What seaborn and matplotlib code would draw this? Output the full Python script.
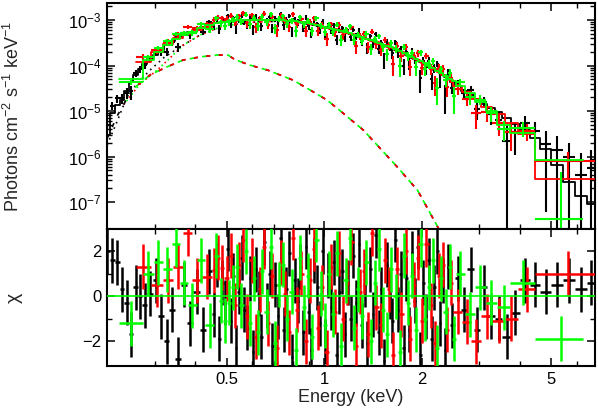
import numpy as np
import matplotlib
matplotlib.use('Agg')
import matplotlib.pyplot as plt
import seaborn as sns
from matplotlib.ticker import FixedLocator, FixedFormatter, NullFormatter

# ---- data ----
# black dataset: bin edges (keV), unfolded model per bin, residual (chi), error / model
black_edges = [0.210, 0.218, 0.226, 0.234, 0.242, 0.250, 0.258, 0.266, 0.275, 0.285,
               0.296, 0.308, 0.320, 0.333, 0.347, 0.362, 0.378, 0.395, 0.413, 0.432,
               0.452, 0.461, 0.470, 0.480, 0.489, 0.499, 0.509, 0.519, 0.530, 0.540,
               0.551, 0.562, 0.573, 0.585, 0.597, 0.609, 0.621, 0.633, 0.646, 0.659,
               0.672, 0.685, 0.699, 0.713, 0.727, 0.742, 0.757, 0.772, 0.787, 0.803,
               0.819, 0.835, 0.852, 0.869, 0.886, 0.904, 0.922, 0.941, 0.960, 0.979,
               0.998, 1.018, 1.039, 1.060, 1.081, 1.103, 1.125, 1.147, 1.170, 1.194,
               1.218, 1.242, 1.267, 1.292, 1.318, 1.344, 1.371, 1.399, 1.427, 1.455,
               1.484, 1.514, 1.544, 1.575, 1.607, 1.639, 1.672, 1.705, 1.739, 1.774,
               1.810, 1.846, 1.883, 1.920, 1.959, 1.998, 2.038, 2.079, 2.120, 2.163,
               2.206, 2.250, 2.295, 2.341, 2.388, 2.436,
               2.530, 2.640, 2.760, 2.890, 3.030, 3.180, 3.350, 3.540, 3.760, 4.010,
               4.300, 4.630, 5.010, 5.440, 5.920, 6.450, 6.820]
black_model = [2.9e-6, 8.9e-6, 1.35e-5, 1.78e-5, 2.7e-5, 4.3e-5, 6.3e-5, 8.3e-5, 1.10e-4, 1.38e-4,
               1.70e-4, 2.24e-4, 2.88e-4, 3.55e-4, 4.2e-4, 4.8e-4, 5.5e-4, 6.2e-4, 6.9e-4, 7.8e-4,
               8.4e-4, 8.6e-4, 8.8e-4, 9.1e-4, 9.3e-4, 9.5e-4, 9.6e-4, 9.7e-4, 9.8e-4, 9.9e-4,
               1.0e-3, 1.0e-3, 1.0e-3, 1.0e-3, 1.0e-3, 1.0e-3, 1.0e-3, 1.0e-3, 1.0e-3, 1.0e-3,
               1.0e-3, 1.0e-3, 9.9e-4, 9.9e-4, 9.8e-4, 9.8e-4, 9.7e-4, 9.6e-4, 9.5e-4, 9.4e-4,
               9.2e-4, 9.1e-4, 8.9e-4, 8.7e-4, 8.3e-4, 8.1e-4, 7.9e-4, 7.6e-4, 7.4e-4, 7.1e-4,
               6.9e-4, 6.7e-4, 6.5e-4, 6.3e-4, 6.1e-4, 5.9e-4, 5.7e-4, 5.5e-4, 5.2e-4, 5.0e-4,
               4.8e-4, 4.6e-4, 4.4e-4, 4.2e-4, 4.0e-4, 3.85e-4, 3.65e-4, 3.5e-4, 3.3e-4, 3.15e-4,
               2.95e-4, 2.8e-4, 2.65e-4, 2.5e-4, 2.35e-4, 2.2e-4, 2.08e-4, 1.95e-4, 1.85e-4, 1.7e-4,
               1.6e-4, 1.5e-4, 1.42e-4, 1.3e-4, 1.22e-4, 1.12e-4, 1.04e-4, 9.4e-5, 8.8e-5, 8.1e-5,
               7.4e-5, 6.8e-5, 6.3e-5, 5.7e-5, 5.3e-5,
               4.4e-5, 3.55e-5, 2.8e-5, 2.3e-5, 1.8e-5, 1.45e-5, 1.17e-5, 9.3e-6, 7.1e-6, 5.2e-6,
               3.8e-6, 2.6e-6, 1.5e-6, 6.6e-7, 2.8e-7, 1.38e-7, 8.9e-8]
black_chi = [2.0, 1.6, 1.5, 0.3, -0.3, -1.7, 0.4, 0.0, -0.4, 0.1,
             0.7, -0.9, -2.0, -0.6, -2.8, 0.5, -1.2, 0.2, -1.5, 1.1,
             -0.8, 1.4, -1.9, 0.6, -0.3, 2.1, -1.1, 0.9, -2.3, 0.2,
             1.7, -0.6, -1.4, 0.8, -2.5, 1.2, 0.1, -1.8, 2.4, -0.4,
             1.0, -2.2, 0.5, -0.9, 2.6, -1.5, 0.3, 1.9, -2.7, 0.7,
             -0.2, 1.3, -1.6, 2.2, -0.7, -2.4, 1.6, 0.4, -1.2, 2.0,
             -2.0, 0.9, -0.5, 1.5, -2.6, 0.2, 1.1, -1.7, 0.6, -1.0,
             1.8, -0.3, 2.3, -1.3, 0.5, -2.1, 1.2, -0.8, 2.7, -1.6,
             0.3, -2.9, 1.4, 0.0, -1.1, 2.5, -0.6, 1.0, -2.3, 0.8,
             -1.5, 1.9, -0.2, 2.2, -2.6, 0.6, -0.9, 1.6, -1.9, 0.4,
             2.0, -1.2, 0.7, -2.4, 1.3,
             -1.3, 0.8, -0.6, 1.2, -1.5, 0.4, -0.9, -1.0, -1.8, -0.75,
             0.7, 0.5, 0.2, 0.5, 0.7, 0.3, 0.6]
black_relerr = [0.35, 0.30, 0.28, 0.26, 0.24, 0.22, 0.20, 0.19, 0.18, 0.17,
                0.16, 0.15, 0.15, 0.14, 0.14, 0.14, 0.13, 0.13, 0.13, 0.13,
                0.15, 0.15, 0.15, 0.15, 0.15, 0.15, 0.15, 0.15, 0.15, 0.15,
                0.15, 0.15, 0.15, 0.15, 0.15, 0.15, 0.15, 0.15, 0.15, 0.15,
                0.15, 0.15, 0.15, 0.15, 0.15, 0.15, 0.15, 0.15, 0.15, 0.15,
                0.15, 0.15, 0.15, 0.15, 0.15, 0.15, 0.15, 0.15, 0.15, 0.15,
                0.15, 0.15, 0.15, 0.15, 0.15, 0.15, 0.15, 0.15, 0.15, 0.15,
                0.16, 0.16, 0.16, 0.16, 0.16, 0.17, 0.17, 0.17, 0.17, 0.17,
                0.18, 0.18, 0.18, 0.18, 0.19, 0.19, 0.19, 0.19, 0.20, 0.20,
                0.20, 0.21, 0.21, 0.21, 0.22, 0.22, 0.22, 0.23, 0.23, 0.23,
                0.24, 0.24, 0.25, 0.25, 0.26,
                0.20, 0.21, 0.22, 0.24, 0.26, 0.28, 0.30, 0.33, 0.38, 0.45,
                0.6, 0.8, 1.2, 2.2, 3.5, 6.0, 9.0]

# red dataset
red_edges = [0.262, 0.292, 0.318, 0.342, 0.366, 0.392, 0.420,
             0.450, 0.464, 0.478, 0.492, 0.507, 0.522, 0.538, 0.554, 0.571, 0.588,
             0.605, 0.623, 0.642, 0.661, 0.681, 0.702, 0.723, 0.745, 0.767, 0.790,
             0.814, 0.838, 0.863, 0.889, 0.916, 0.943, 0.972, 1.001, 1.031, 1.062,
             1.094, 1.126, 1.160, 1.195, 1.231, 1.268, 1.306, 1.345, 1.385, 1.427,
             1.470, 1.514, 1.559, 1.606, 1.654, 1.704, 1.755, 1.808, 1.862, 1.918,
             1.975, 2.035, 2.096, 2.159, 2.223, 2.290, 2.359, 2.430, 2.500,
             2.660, 2.840, 3.050, 3.300, 3.600, 3.950, 4.460, 6.840]
red_model = [1.2e-4, 2.0e-4, 3.0e-4, 4.0e-4, 5.0e-4, 6.0e-4, 7.2e-4,
             8.5e-4, 8.8e-4, 9.1e-4, 9.4e-4, 9.6e-4, 9.7e-4, 9.8e-4, 9.9e-4, 1.0e-3, 1.0e-3,
             1.0e-3, 1.0e-3, 1.0e-3, 1.0e-3, 1.0e-3, 9.9e-4, 9.8e-4, 9.7e-4, 9.6e-4, 9.4e-4,
             9.2e-4, 9.0e-4, 8.7e-4, 8.3e-4, 8.0e-4, 7.6e-4, 7.2e-4, 6.8e-4, 6.5e-4, 6.2e-4,
             5.9e-4, 5.6e-4, 5.3e-4, 4.9e-4, 4.6e-4, 4.3e-4, 4.1e-4, 3.8e-4, 3.55e-4, 3.3e-4,
             3.0e-4, 2.8e-4, 2.6e-4, 2.4e-4, 2.2e-4, 2.0e-4, 1.8e-4, 1.62e-4, 1.48e-4, 1.33e-4,
             1.18e-4, 1.05e-4, 9.3e-5, 8.2e-5, 7.2e-5, 6.3e-5, 5.5e-5, 4.7e-5,
             3.6e-5, 2.6e-5, 1.85e-5, 1.25e-5, 8.5e-6, 5.5e-6, 3.2e-6, 3.2e-7]
red_chi = [1.3, 0.5, 0.7, 1.3, 2.8, 0.7, 0.85,
           1.15, 1.7, 1.25, 0.8, 1.8, -0.4, 1.4, 2.5, -0.9, 1.6,
           -1.8, 0.3, 2.2, -1.2, 0.9, -2.3, 1.5, 0.1, -1.6, 2.6,
           -0.6, 1.0, -2.0, 0.7, 2.1, -1.4, 0.4, -2.5, 1.3, -0.7,
           1.9, -1.0, 0.6, 2.4, -2.2, 0.2, 1.1, -1.7, 2.8, -0.5,
           -1.3, 1.6, 0.3, -2.6, 1.2, -0.8, 2.0, -1.9, 0.5, 1.7,
           -1.1, 2.3, -0.4, -2.1, 0.9, 1.4, -1.5, 0.6,
           -0.7, -1.15, -2.0, -0.9, -1.1, -1.0, 0.3, 1.0]
red_relerr = [0.20, 0.17, 0.16, 0.15, 0.15, 0.15, 0.15,
              0.17, 0.17, 0.17, 0.17, 0.17, 0.17, 0.17, 0.17, 0.17, 0.17,
              0.17, 0.17, 0.17, 0.17, 0.17, 0.17, 0.17, 0.17, 0.17, 0.17,
              0.17, 0.17, 0.17, 0.17, 0.17, 0.17, 0.17, 0.17, 0.18, 0.18,
              0.18, 0.18, 0.18, 0.18, 0.19, 0.19, 0.19, 0.19, 0.20, 0.20,
              0.20, 0.20, 0.21, 0.21, 0.21, 0.22, 0.22, 0.22, 0.23, 0.23,
              0.23, 0.24, 0.24, 0.24, 0.25, 0.25, 0.25, 0.26,
              0.22, 0.24, 0.26, 0.28, 0.32, 0.38, 0.45, 1.5]

# green dataset
green_edges = [0.232, 0.276, 0.298, 0.318, 0.338, 0.358, 0.380, 0.404, 0.430,
               0.458, 0.472, 0.486, 0.501, 0.516, 0.531, 0.547, 0.564, 0.581, 0.598,
               0.616, 0.635, 0.654, 0.673, 0.694, 0.715, 0.736, 0.758, 0.781, 0.804,
               0.828, 0.853, 0.879, 0.905, 0.932, 0.960, 0.989, 1.019, 1.049, 1.081,
               1.113, 1.146, 1.181, 1.216, 1.253, 1.290, 1.329, 1.369, 1.410, 1.452,
               1.496, 1.541, 1.587, 1.634, 1.683, 1.734, 1.786, 1.839, 1.894, 1.951,
               2.010, 2.070, 2.132, 2.196, 2.262, 2.330, 2.400, 2.472, 2.540,
               2.710, 2.910, 3.150, 3.400, 3.750, 4.460, 6.270]
green_model = [5.0e-5, 1.32e-4, 2.0e-4, 2.9e-4, 3.8e-4, 4.7e-4, 5.6e-4, 6.6e-4, 7.6e-4,
               8.6e-4, 8.9e-4, 9.2e-4, 9.5e-4, 9.7e-4, 9.8e-4, 9.9e-4, 1.0e-3, 1.0e-3, 1.0e-3,
               1.0e-3, 1.0e-3, 1.0e-3, 1.0e-3, 9.9e-4, 9.9e-4, 9.8e-4, 9.7e-4, 9.5e-4, 9.3e-4,
               9.1e-4, 8.8e-4, 8.5e-4, 8.1e-4, 7.8e-4, 7.4e-4, 7.0e-4, 6.7e-4, 6.4e-4, 6.1e-4,
               5.8e-4, 5.5e-4, 5.1e-4, 4.8e-4, 4.5e-4, 4.2e-4, 3.9e-4, 3.65e-4, 3.4e-4, 3.15e-4,
               2.9e-4, 2.7e-4, 2.5e-4, 2.3e-4, 2.1e-4, 1.9e-4, 1.72e-4, 1.56e-4, 1.42e-4, 1.27e-4,
               1.12e-4, 1.0e-4, 8.8e-5, 7.7e-5, 6.8e-5, 5.9e-5, 5.1e-5, 4.5e-5,
               3.5e-5, 2.5e-5, 1.6e-5, 1.0e-5, 5.0e-6, 3.3e-6, 8.3e-7]
green_chi = [-1.2, 1.0, 1.5, 1.2, 2.3, 0.6, -0.4, 1.6, -1.3,
             1.8, -0.2, -1.1, -0.3, 0.4, 1.3, -0.4, 2.0, -1.2, 0.8,
             -1.6, 1.1, -0.7, 2.2, -2.1, 0.5, 1.4, -1.0, 0.2, -2.4,
             1.7, -0.5, 0.9, -1.8, 2.5, 0.1, -1.3, 1.0, -0.8, 1.9,
             -2.2, 0.7, 2.6, -1.4, 0.3, -0.9, 1.5, -2.0, 0.6, 2.1,
             -0.6, -1.7, 1.2, 0.0, -2.5, 1.8, -0.3, 0.9, -1.5, 2.3,
             -1.0, 0.4, 1.6, -2.3, 0.8, -0.7, 1.3, -1.9,
             1.0, -0.8, 0.4, -0.3, -0.5, 0.6, -1.9]
green_relerr = [0.12, 0.16, 0.15, 0.15, 0.14, 0.14, 0.14, 0.14, 0.14,
                0.16, 0.16, 0.16, 0.16, 0.16, 0.16, 0.16, 0.16, 0.16, 0.16,
                0.16, 0.16, 0.16, 0.16, 0.16, 0.16, 0.16, 0.16, 0.16, 0.16,
                0.16, 0.16, 0.16, 0.16, 0.16, 0.16, 0.16, 0.16, 0.16, 0.16,
                0.17, 0.17, 0.17, 0.17, 0.18, 0.18, 0.18, 0.18, 0.19, 0.19,
                0.19, 0.20, 0.20, 0.20, 0.21, 0.21, 0.22, 0.22, 0.23, 0.23,
                0.24, 0.24, 0.25, 0.25, 0.26, 0.26, 0.27, 0.28,
                0.22, 0.25, 0.28, 0.32, 0.38, 0.45, 0.50]

# model components (peaked dashed one, dotted one)
compb_energy = [0.214, 0.230, 0.255, 0.290, 0.327, 0.367, 0.414, 0.467, 0.505, 0.530, 0.590,
                0.670, 0.800, 0.904, 1.02, 1.14, 1.32, 1.69, 1.94, 2.24, 2.40]
compb_flux = [2.5e-6, 7.9e-6, 2.9e-5, 6.2e-5, 9.3e-5, 1.32e-4, 1.55e-4, 1.70e-4, 1.70e-4, 1.35e-4, 1.02e-4,
              7.9e-5, 4.8e-5, 2.9e-5, 1.74e-5, 9.1e-6, 3.8e-6, 5.6e-7, 1.8e-7, 2.8e-8, 1.0e-8]
compa_black_energy = [0.214, 0.229, 0.246, 0.264, 0.290, 0.322, 0.367]
compa_black_flux = [1.8e-6, 5.6e-6, 2.0e-5, 3.9e-5, 7.9e-5, 1.55e-4, 2.8e-4]
compa_energy = [0.241, 0.270, 0.305, 0.334, 0.367, 0.414, 0.487, 0.590, 0.700, 0.850,
                1.00, 1.30, 1.70, 2.10]
compa_flux = [1.4e-5, 3.9e-5, 7.9e-5, 1.45e-4, 2.8e-4, 4.7e-4, 7.4e-4, 8.9e-4, 9.3e-4, 8.7e-4,
              6.9e-4, 4.2e-4, 2.0e-4, 9.3e-5]

xtick_vals = [0.5, 1, 2, 5]
xtick_labels = ['0.5', '1', '2', '5']
ytick_vals = [1e-7, 1e-6, 1e-5, 1e-4, 1e-3]
ytick_labels = ['10$^{-7}$', '10$^{-6}$', '10$^{-5}$', '10$^{-4}$', '10$^{-3}$']
chitick_vals = [-2, 0, 2]

# ---- style ----
sns.set_theme(style='ticks')
plt.rcParams['font.family'] = ['Liberation Sans', 'DejaVu Sans']
plt.rcParams['mathtext.fontset'] = 'custom'
plt.rcParams['mathtext.rm'] = 'Liberation Sans'
plt.rcParams['mathtext.it'] = 'Liberation Sans:italic'
plt.rcParams['mathtext.bf'] = 'Liberation Sans:bold'

BLACK, RED, GREEN = '#000000', '#ff0000', '#00ff00'

fig = plt.figure(figsize=(5.98, 4.12), dpi=100)
ax1 = fig.add_axes([107 / 598, 1 - 229 / 412, 488 / 598, 226 / 412])
ax2 = fig.add_axes([107 / 598, 1 - 366 / 412, 488 / 598, 137 / 412])
for ax in (ax1, ax2):
    ax.set_xscale('log')
ax1.set_yscale('log')

series = [(black_edges, black_model, black_chi, black_relerr, BLACK),
          (red_edges, red_model, red_chi, red_relerr, RED),
          (green_edges, green_model, green_chi, green_relerr, GREEN)]

# components under the data
sns.lineplot(x=compa_black_energy + compa_energy[5:], y=compa_black_flux + compa_flux[5:],
             sort=False, estimator=None, color=BLACK, lw=1.2, linestyle=(0, (1, 2.5)), ax=ax1, zorder=1)
sns.lineplot(x=compa_energy, y=compa_flux, sort=False, estimator=None, color=RED,
             lw=1.2, linestyle=(0, (1, 4)), ax=ax1, zorder=1)
sns.lineplot(x=compa_energy, y=compa_flux, sort=False, estimator=None, color=GREEN,
             lw=1.2, linestyle=(2.5, (1, 4)), ax=ax1, zorder=1)
sns.lineplot(x=compb_energy, y=compb_flux, sort=False, estimator=None, color=BLACK,
             lw=1.2, linestyle=(0, (2.5, 5)), ax=ax1, zorder=1)
sns.lineplot(x=compb_energy[2:], y=compb_flux[2:], sort=False, estimator=None, color=RED,
             lw=1.2, linestyle=(2.5, (2.5, 5)), ax=ax1, zorder=1)
sns.lineplot(x=compb_energy[2:], y=compb_flux[2:], sort=False, estimator=None, color=GREEN,
             lw=1.2, linestyle=(5, (2.5, 5)), ax=ax1, zorder=1)

for i, (edges, model, chi, rel, col) in enumerate(series):
    edges = np.array(edges)
    model = np.array(model)
    chi = np.array(chi)
    lo, hi = edges[:-1], edges[1:]
    cen = (lo + hi) / 2
    err = model * np.array(rel)
    flux = model + chi * err
    err_low = np.minimum(err, flux - 1e-10)
    ax1.errorbar(cen, flux, xerr=[cen - lo, hi - cen], yerr=[err_low, err], fmt='none',
                 ecolor=col, elinewidth=1.5, capsize=0, zorder=2 + i)
    step_x = np.repeat(edges, 2)[1:-1]
    step_y = np.repeat(model, 2)
    sns.lineplot(x=step_x, y=step_y, sort=False, estimator=None, color=col, lw=1.3,
                 ax=ax1, zorder=2 + i)
    ax2.errorbar(cen, chi, xerr=[cen - lo, hi - cen], yerr=1, fmt='none',
                 ecolor=col, elinewidth=1.8, capsize=0, zorder=2 + i)

ax2.axhline(0, color=GREEN, lw=1.2, zorder=6)

# ---- axes ----
ax1.set_xlim(0.2138, 6.835)
ax2.set_xlim(0.2138, 6.835)
ax1.set_ylim(2.55e-8, 2.37e-3)
ax2.set_ylim(-3.11, 2.98)

minor_x = [0.3, 0.4, 0.6, 0.7, 0.8, 0.9, 3, 4, 6]
for ax in (ax1, ax2):
    ax.xaxis.set_major_locator(FixedLocator(xtick_vals))
    ax.xaxis.set_minor_locator(FixedLocator(minor_x))
    ax.xaxis.set_minor_formatter(NullFormatter())
    ax.tick_params(which='both', direction='in', top=True, right=True, colors='black',
                   labelsize=12, pad=4)
    ax.tick_params(which='major', length=6, width=1.1)
    ax.tick_params(which='minor', length=3.5, width=1.0)
    for s in ax.spines.values():
        s.set_linewidth(1.5)
        s.set_color('black')

ax1.xaxis.set_major_formatter(NullFormatter())
ax2.xaxis.set_major_formatter(FixedFormatter(xtick_labels))

ax1.yaxis.set_major_locator(FixedLocator(ytick_vals))
ax1.yaxis.set_major_formatter(FixedFormatter(ytick_labels))
ax1.yaxis.set_minor_locator(FixedLocator([m * d for d in ytick_vals[:-1] for m in range(2, 10)]
                                         + [2e-3]))
ax1.yaxis.set_minor_formatter(NullFormatter())

ax2.yaxis.set_major_locator(FixedLocator(chitick_vals))
ax2.yaxis.set_major_formatter(FixedFormatter(['\u22122', '0', '2']))
ax2.yaxis.set_minor_locator(FixedLocator([-1, 1]))

ax1.set_ylabel('Photons cm$^{-2}$ s$^{-1}$ keV$^{-1}$', fontsize=13)
ax2.set_ylabel('\u03c7', fontsize=14)
ax2.set_xlabel('Energy (keV)', fontsize=13)
ax1.yaxis.set_label_coords(-0.172, 0.5)
ax2.yaxis.set_label_coords(-0.172, 0.5)
ax2.xaxis.set_label_coords(0.5, -0.17)

fig.savefig('out.png', dpi=100)
